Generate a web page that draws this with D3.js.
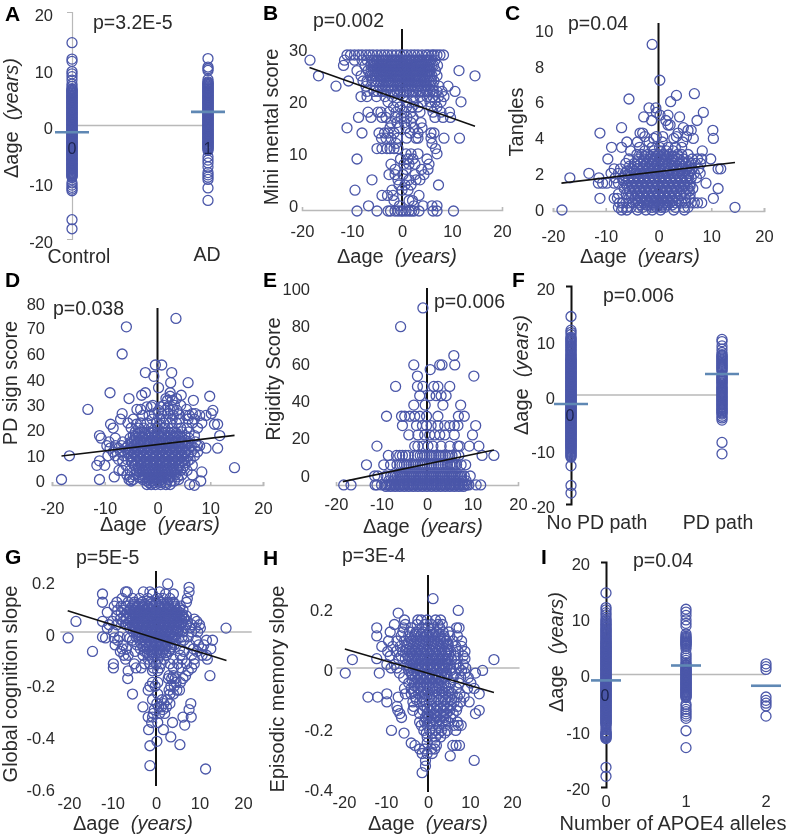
<!DOCTYPE html>
<html><head><meta charset="utf-8">
<script src="https://cdn.jsdelivr.net/npm/d3@7/dist/d3.min.js"></script>
<style>html,body{margin:0;padding:0;background:#fff}svg{display:block;filter:blur(.35px)}text{font-family:"Liberation Sans",Arial,sans-serif;fill:#2b2b2b}</style>
</head><body><div id="c"></div>
<script>
// ---------- Strip panels: delta-age values per group ----------
const controlAge=[14.6,11.7,11.3,9.5,9.1,8.6,8,7.3,6.9,6.5,6.2,5.9,5.6,5.3,5,4.7,4.4,4.1,3.8,3.5,3.2,2.9,2.6,2.3,2,1.7,1.4,1.1,.8,.5,.2,-.1,-.4,-.7,-1,-1.3,-1.6,-1.9,-2.2,-2.5,-2.8,-3.1,-3.4,-3.7,-4,-4.3,-4.6,-4.9,-5.2,-5.5,-5.8,-6.1,-6.4,-6.7,-7,-7.3,-7.6,-7.9,-8.2,-8.5,-8.8,-9.1,-10.1,-10.5,-10.9,-11.2,-11.5,-16.6,-18.2];
const controlAgeCore=[6.35,6.05,5.75,5.45,5.15,4.85,4.55,4.25,3.95,3.65,3.35,3.05,2.75,2.45,2.15,1.85,1.55,1.25,.95,.65,.35,.05,-.25,-.55,-.85,-1.15,-1.45,-1.75,-2.05,-2.35,-2.65,-2.95,-3.25,-3.55,-3.85,-4.15,-4.45,-4.75,-5.05,-5.35,-5.65,-5.95,-6.25,-6.55,-6.85,-7.15,-7.45,-7.75,-8.05,-8.35,-8.65,-8.95];
const adAge=[11.8,10.3,10,9.7,8.1,7.7,7.4,7.1,6.8,6.5,6.2,5.9,5.6,5.3,5,4.7,4.4,4.1,3.8,3.5,3.2,2.9,2.6,2.3,2,1.7,1.4,1.1,.8,.5,.2,-.1,-.4,-.7,-1,-1.3,-1.6,-1.9,-2.2,-2.5,-2.8,-3.1,-3.4,-3.7,-4,-4.4,-5.5,-6.1,-6.6,-7.3,-8.3,-8.7,-9.1,-9.5,-11,-13.2];
const adAgeCore=[7.55,7.25,6.95,6.65,6.35,6.05,5.75,5.45,5.15,4.85,4.55,4.25,3.95,3.65,3.35,3.05,2.75,2.45,2.15,1.85,1.55,1.25,.95,.65,.35,.05,-.25,-.55,-.85,-1.15,-1.45,-1.75,-2.05,-2.35,-2.65,-2.95,-3.25,-3.55,-3.85,-4.2];
const noPdAge=[14.4,11.9,11.5,11.1,10.6,10.2,9.8,9.3,8.9,8.4,8,7.5,7.1,6.7,6.4,6.1,5.8,5.5,5.2,4.9,4.6,4.3,4,3.7,3.4,3.1,2.8,2.5,2.2,1.9,1.6,1.3,1,.7,.4,.1,-.2,-.5,-.8,-1.1,-1.4,-1.7,-2,-2.3,-2.6,-2.9,-3.2,-3.5,-3.8,-4.1,-4.4,-4.7,-5,-5.3,-5.6,-5.9,-6.2,-6.5,-6.8,-7.1,-7.4,-7.7,-8,-8.3,-8.6,-8.9,-9.2,-9.5,-9.8,-10.2,-10.6,-11,-11.4,-13,-16.6,-18];
const noPdAgeCore=[10.4,10,9.55,9.1,8.65,8.2,7.75,7.3,6.9,6.55,6.25,5.95,5.65,5.35,5.05,4.75,4.45,4.15,3.85,3.55,3.25,2.95,2.65,2.35,2.05,1.75,1.45,1.15,.85,.55,.25,-.05,-.35,-.65,-.95,-1.25,-1.55,-1.85,-2.15,-2.45,-2.75,-3.05,-3.35,-3.65,-3.95,-4.25,-4.55,-4.85,-5.15,-5.45,-5.75,-6.05,-6.35,-6.65,-6.95,-7.25,-7.55,-7.85,-8.15,-8.45,-8.75,-9.05,-9.35,-9.65,-10,-10.4,-10.8,-11.2];
const pdAge=[10.2,9.8,9,8.4,7.8,7.4,7,6.6,6.2,5.8,5.4,5,4.6,4.3,3.6,3.2,2.8,2.4,2,1.7,1.3,.9,.5,.1,-.3,-.7,-1.1,-1.5,-1.9,-2.3,-2.7,-3.1,-3.5,-3.9,-4.2,-4.6,-8.7,-10.8];
const pdAgeCore=[7.2,6.8,6.4,6,5.6,5.2,4.8,3.4,3,2.6,2.2,1.5,1.1,.7,.3,-.1,-.5,-.9,-1.3,-1.7,-2.1,-2.5,-2.9,-3.3];
const apoe0Age=[14.5,11.9,11.5,11,10.6,10.1,9.7,9.2,8.8,8.3,7.9,7.5,7.1,6.7,6.3,5.9,5.6,5.3,5,4.7,4.4,4.1,3.8,3.5,3.2,2.9,2.6,2.3,2,1.7,1.4,1.1,.8,.5,.2,-.1,-.4,-.7,-1,-1.3,-1.6,-1.9,-2.2,-2.5,-2.8,-3.1,-3.4,-3.7,-4,-4.3,-4.6,-4.9,-5.2,-5.5,-5.8,-6.1,-6.4,-6.7,-7,-7.3,-7.6,-7.9,-8.2,-8.5,-8.8,-10.2,-10.5,-10.8,-11.1,-11.4,-16.5,-18.1];
const apoe0AgeCore=[9.5,9,8.55,8.1,7.7,7.3,6.9,6.5,6.1,5.75,5.45,5.15,4.85,4.55,4.25,3.95,3.65,3.35,3.05,2.75,2.45,2.15,1.85,1.55,1.25,.95,.65,.35,.05,-.25,-.55,-.85,-1.15,-1.45,-1.75,-2.05,-2.35,-2.65,-2.95,-3.25,-3.55,-3.85,-4.15,-4.45,-4.75,-5.05,-5.35,-5.65,-5.95,-6.25,-6.55,-6.85,-7.15,-7.45,-7.75,-8.05,-8.35,-8.65,-9,-9.4,-9.8,-10.35,-10.65,-10.95,-11.25];
const apoe1Age=[11.6,11.1,10.5,9.7,9.1,8.6,7.2,6.8,6.4,6,5.7,5.4,5,4.6,3.7,3.3,2.9,2.5,2.1,1.8,1.4,1,.7,.4,.1,-.2,-.5,-.8,-1.1,-1.4,-1.7,-2,-2.3,-2.6,-2.9,-3.2,-3.5,-3.8,-4.1,-5.3,-5.7,-6.2,-6.6,-7,-7.4,-7.8,-10,-13];
const apoe1AgeCore=[6.6,6.2,5.85,5.55,5.2,1.6,1.2,.85,.55,.25,-.05,-.35,-.65,-.95,-1.25,-1.55,-1.85,-2.15,-2.45,-2.75,-3.05,-3.35,-3.65,-3.95];
const apoe2Age=[1.9,1.4,.9,-4,-4.6,-5.1,-5.6,-7.4];
const meansA=[-1.2,2.4], meansF=[-1.65,3.85], meansI=[-1.05,1.6,-2];
const catsA=["Control","AD"], catsF=["No PD path","PD path"], catsI=["0","1","2"];
const ticksStrip=[20,10,0,-10,-20];
const ticksAge=[-20,-10,0,10,20];
const ticksB=[0,10,20,30], ticksC=[0,2,4,6,8,10], ticksD=[0,10,20,30,40,60,70,80];
const ticksE=[0,20,40,60,80,100], ticksG=[0.2,0,-0.2,-0.4,-0.6], ticksH=[0.2,0,-0.2,-0.4];
// ---------- Scatter panels: rows of [y, x, x, ...] ----------
const mmseRows=[
[30,-11,-10.3,-9.5,-8.7,-8,-7.2,-6.5,-5.8,-5,-4.2,-3.5,-2.8,-2,-1.2,-.4,.3,1,1.8,2.5,3.2,4,4.8,5.3,6,6.4,7,7.6,8.3],
[29,-18.4,-11.5,-9.5,-8,-7,-6,-5,-4,-3.3,-2.5,-1.7,-1,-.2,.6,1.4,2.1,2.9,3.6,4.4,5.1,5.8,6.6],
[28,-11.7,-7.4,-6.2,-5.4,-4.6,-3.8,-3,-2.2,-1.5,-.7,0,.9,1.7,2.4,3.1,3.9,4.6,5.5,6.3,7.1],
[27,-9,-6.8,-5.7,-4.9,-4.1,-3.4,-2.6,-1.9,-1.1,-.3,.5,1.2,2,2.7,3.5,4.2,5,5.6,6.7,11.4],
[26,-16.7,14.6,-8.2,-6.4,-5.5,-4.5,-3.7,-2.9,-2.1,-1.3,-.6,.2,1,1.8,2.6,3.3,4.1,5.2,6,7],
[25,-10.7,-7.8,-7,-6,-4.8,-3.6,-2.7,-1.8,-.9,0,.8,1.6,2.4,3.2,4.4,5.4,6.4],
[24,-13.2,-7.2,-5.2,-3.9,-2.8,-1.6,-.4,.7,1.9,3,4,5,6.2,7.4,9.2],
[23,-7,-5.6,-4,-2.4,-1,.4,1.4,2.8,4.2,5.6,7,8,10.6],
[22,-8.2,-7,-5.1,-3.4,-1.9,.2,2.2,3.6,5,6.2,7.3,8.4],
[21,-2.8,-1,1,2.4,4,5.6,6.6,7.8,11.8],
[20,-1.7,-.4,.9,2,3.2,5.8,7],
[19,-6.8,-4.8,-4.2,-2.6,-1.2,.4,1.8,3.6,6.2,7.8,9.5],
[18,-8.7,-6.2,-4,-3.2,-1.4,-.2,1,2.2,6.6,8.2,9.7],
[17,-2.2,-1,.5,1.8,3.8],
[16,-11,-2.4,-.6,.8,2.4,4],
[15,-8,-4.6,-3.5,-2.8,-1.6,1.6,3.2,6.4,5.8],
[14,-4.1,-3.2,-2.2,-.9,.9,2.8,3.2,5.8,8.4,11.5],
[13,-1.2,6],
[12,-5,-4,-3,-2.4,-1.6,-.8,6.7],
[11,.8,1.8,3.2,7],
[10,-9,-.3,1.2,2.2,5],
[9,-2.2,.4,1.4,2.6,5.4],
[8,-1.4,.8,3.9,5.2],
[7,-2.6,-1.4,.2,2.6,4.4],
[6,-6,-.8,1.4,2.8,3.6],
[5,-.6,.6,1.8,7.3],
[4,-9.4,-2,0,1.2],
[3,-4,-2.9,-1.8,3.4],
[2,-1.6,1.4,2.1],
[1,-6.7,-.5,2.4,4.2,6,7],
[0,-9,-5,-2.8,-2.3,-1.4,-.8,-.2,.2,.8,1.4,1.9,2.4,3.4,6.2,7,10.3]];
const mmseCore=[
[29,-5.6,-4.6,-3.7,-2.9,-2.1,-1.4,-.6,.2,1,1.8,2.5,3.3,4,4.8,5.5],
[28,-5.8,-5,-4.2,-3.4,-2.6,-1.9,-1.1,-.3,.4,1.3,2.1,2.8,3.5,4.3,5.1,5.9],
[27,-6.2,-5.3,-4.5,-3.8,-3,-2.2,-1.5,-.7,.1,.9,1.6,2.3,3.1,3.9,4.6,5.3],
[26,-6,-5,-4.1,-3.3,-2.5,-1.7,-1,-.2,.6,1.4,2.2,2.9,3.7,4.6,5.6],
[25,-5.4,-4.2,-3.2,-2.2,-1.4,-.5,.4,1.2,2,2.8,3.8,4.9,5.9],
[24,-4.5,-3.4,-2.2,-1,.1,1.3,2.5,3.5,4.5,5.6],
[23,-4.8,-3.2,-1.7,-.3,.9,2.1,3.5,4.9,6.3]];
const tanglesRows=[
[9.25,-1.2],[7.25,.25],[6.5,6.8],[6.4,3.4],[6.2,-5.6],[6.05,2.3],[5.7,-.5,-1.8],[5.45,8.5,-.4],[5.3,1.8,.3],[5.2,4,-2.8],[5,7.3,-1.3,1.4],[4.75,1.8,2.2],[4.6,-7,4.7],[4.45,10.3,5.6,6.2],
[4.3,-11.1,-3.5,-3,3.7],[4.1,3.4,-.4,.8,-2.6,5.3],[4,10.4,6.6,2.9,-.9],[3.8,-6,-4,-1.8,.7,4.6],[3.5,-8.9,-7,-3.6,-1.2,.2,1.8,3.2,4.4],[3.3,-5.3,-2.6,-.9,.4,1.5,2.8,8.3],
[3.1,-4.1,-3.2,-2,-1,0,1,2,3.6,4.4,5.6],[2.85,-9.6,-5.6,-3.8,-2.8,-1.6,-.6,.5,1.5,2.6,3.7,4.8,6.4,7.4,8.2,9.9],
[2.6,-6.2,-4.6,-3.4,-2.3,-1.3,-.2,.8,1.9,3,4.1,5.2,6.2,7,8],[2.3,-8.4,-7.2,-5.1,-4,-3,-2,-1,0,1,2.2,3.3,4.4,5.4,6.4,7.6,11.3,11.8],
[2.05,-13.2,-9,-7.6,-6.3,-5.3,-4.3,-3.4,-2.4,-1.4,-.4,.6,1.6,2.6,3.6,4.6,5.8,6.8,7.9],[1.8,-16.8,-11.3,-8.2,-6.8,-5.7,-4.7,-3.8,-2.8,-1.8,-.8,.2,1.2,2.2,3.2,4.2,5.2,6.2,7.2],
[1.5,-11.4,-10.6,-9.8,-8.4,-7.6,-6.2,-5.2,-4.2,-3.2,-2.2,-1.2,-.2,.8,1.8,2.8,3.8,4.8,6,9],[1.2,-6.5,-5.6,-4.6,-3.6,-2.6,-1.6,-.6,.4,1.4,2.4,3.4,4.4,5.6,6.5,11.3],
[.9,-7.6,-6.1,-5,-4,-3,-2,-1,0,1,2,3,4.2,5.2,6],[.65,-11.1,-8.4,-7.8,-5.6,-4.4,-3.4,-2.4,-1.4,-.4,.6,1.6,2.6,3.6,10.4,5,6],
[.4,-7.4,-6.8,-5.6,-4.8,-3.8,-2.8,-1.8,-.8,.2,1.2,2.2,3.2,4.4,5.2,6.2,6.8,7.4,8.2],[.15,-7.6,-6.8,-6,-5.2,-3.8,-3,-1.2,-.4,.5,1.2,3.2,4.8,5.6,14.5],[0,-18.3,-7,-6,-4,-2.4,-1.2,.4,2.9,4.9]];
const tanglesCore=[
[3,-2.5,-1.5,-.5,.5,1.5,2.5,3],[2.7,-4,-2.8,-1.8,-.8,.3,1.3,2.4,3.4,4.5,5.7],[2.45,-5.5,-4,-2.9,-1.8,-.7,.3,1.4,2.5,3.5,4.6,5.7],[2.18,-6,-4.6,-3.5,-2.5,-1.5,-.5,.5,1.6,2.8,3.8,4.9,5.9],
[1.92,-6.3,-5.2,-4.2,-3.3,-2.3,-1.3,-.3,.7,1.7,2.7,3.7,4.7,5.7],[1.65,-6.7,-5.7,-4.7,-3.7,-2.7,-1.7,-.7,.3,1.3,2.3,3.3,4.3,5.4],[1.35,-6,-5.1,-4.1,-3.1,-2.1,-1.1,-.1,.9,1.9,2.9,3.9,5,6],
[1.05,-5.5,-4.5,-3.5,-2.5,-1.5,-.5,.5,1.5,2.5,3.5,4.7,5.8],[.78,-5.2,-3.9,-2.9,-1.9,-.9,.1,1.1,2.1,3.1,4.2],[.52,-4.3,-3.3,-2.3,-1.3,-.3,.7,1.7,2.7,3.8],[.28,-3.4,-2.3,-1.7,-.8,0,.8,1.7,2.6]];
const pdSignRows=[
[74,3.5],[70.5,-5.9],[60,-6.7],[46,-.4,.8],[43,-2.3,2.7],[41.5,-.7],[39,2.5,5.8],[37,.2],[35,-9,-2.3,2.4],[34,-3,4.5],[33.6,9.9,2.4],[32.7,-5.4,3.6,1.6],[32,6.8,1.9,2.8],[30,-.9,1.2,3.2,4.4],[29.4,-2,-1.2,.6,2],
[28.4,-13.2,-3.9,-3.2,3,5.5],[28,10.5,.2,1.4,2.4,3.7],[26.7,10.2,-6.7,-.6,.8,2,4,6.6,7.2],[26,9.2,-2.8,-1.6,3,5.4,6,8],[24.5,-7,-4.6,-1,.4,1.6,2.8,4.2,5.8,7],[23,-5.6,-3.2,-2,-.2,1.2,2.4,3.6,6.6,8.4],[22.5,10.8,11.4,-8.9,-4,.4],
[21,-8.4,-5,-3.6,-2.6,-1.2,0,1.4,2.8,4.4,5.6,7.6],[19.5,-4.2,-3,-1.6,-.6,.8,2,3.2,4.6,6],[18,-11,11.8,-4.6,-3.4,-2.2,-1,.2,1.4,2.6,3.8,5.2,7],[17,-10.7,-8,-5.2,-4,-2.8,-1.5,-.4,.8,2,3.2,4.6,6],
[15.5,-9.2,-6.6,-5,-3.8,-2.6,-1.4,-.2,1,2.2,3.4,4.6,5.8,7.2],[14,-9.6,-8,-6.8,-5.6,-4.4,-3.2,-2,-.8,.4,1.6,2.8,4,5.2,6.4,7.6,8],[13,9.2,11.4,-9,-7.4,-6,-4.8,-3.6,-2.4,-1.2,0,1.2,2.4,3.6,4.8,6,7],
[11.5,-8.4,-7,-5.6,-4.4,-3.2,-2,-.8,.4,1.6,2.8,4,5.2,6.4,7.6],[10,-16.7,-9.4,-8,-6.4,-5,-3.8,-2.6,-1.4,-.2,1,2.2,3.4,4.6,5.8,7],[8.6,-7.4,-5.8,-4.6,-3.4,-2.2,-1,.2,1.4,2.6,3.8,5,6.2],
[8,-11,-6.6,-5,-3.8,-2.6,-1.4,-.2,1,2.2,3.4,4.6,5.8],[6.2,-11.5,-10,-6,-4.4,-3.2,-2,-.8,.4,1.6,2.8,4,5.2,6.6],[5.3,14.6,-3.6,-2.4,-1.2,0,1.2,2.4,3.6,4.8],[4.2,-7.3,-6.6,-5.2,-4,-2.8,-1.6,-.4,.8,2,3.2,4.4,5.6],
[3.6,8.4,-3.4,-2.2,-1,.2,1.4,2.6],[2.4,-5.8,-4.4,-3,-1.8,-.6,.6,1.8,3.4,4.6,6.6],[1.6,-8.2,-5.2,-3.6,-2.4,-1.2,0,1.2,2.4,3.8],[.6,-18.2,-11,-5.4,-4.6,-2.8,-1.6,-.4,.8,2,4],[0,8.2,-5,-2,-.9,.3,2.6,3.2],[-1.4,6.1,-2,-1.2,-.4,.6,1.6,2.4],[-1.7,7]];
const pdSignCore=[
[19,-3.6,-2.4,-1.2,0,1.2,2.4,3.6],[17.8,-4.2,-3,-1.8,-.6,.6,1.8,3,4.2],[16.2,-4.4,-3.2,-2,-.8,.4,1.6,2.8,4,5.2],[14.8,-5,-3.8,-2.6,-1.4,-.2,1,2.2,3.4,4.6,5.8],[12.4,-5.4,-4.2,-3,-1.8,-.6,.6,1.8,3,4.2,5.4],
[10.8,-5.6,-4.4,-3.2,-2,-.8,.4,1.6,2.8,4,5.2],[9.4,-5,-3.8,-2.6,-1.4,-.2,1,2.2,3.4,4.6],[7.2,-4.8,-3.2,-2,-.8,.4,1.6,2.8,4,5.2],[5.8,-4.2,-3,-1.8,-.6,.6,1.8,3,4.2],[4.8,-3.4,-2.2,-1,.2,1.4,2.6,3.8],[3,-4,-2.8,-1.6,-.4,.8,2,3.2],[1.2,-2.8,-1.6,-.4,.8,2],[-.6,-1.6,-.6,.6,1.6]];
const rigidityRows=[
[90,-.9],[80,-5.8],[64.5,5.9],[59.5,-2.9,2.8,3.3,6.1],[57,.7],[53.5,-2.1,10.3],[48,-6.9,-2.1,-.9,1.5,2.4,5],[43,-1.6,.6,2,3.1,4.2],[38,-2.9,-.4,3.5,7.4],
[32,-8.9,-5.6,-4.9,-3.8,-2.7,-1.6,-.1,2.4,6.9,8.2],[27,-5.4,-2.3,-1,-.1,.9,2.4,3.9,5,6,6.8,10.7],[22,-4,-2,-.5,.6,1.7,2.8,3.9,6,10],
[16,-11,-2.7,-2,-.9,.2,1.3,3.1,5,6.8,7.2,9.3,11.4],[11,-8.5,-6.7,-6,-5.4,-4.7,-4.1,-2.7,-1.5,-.5,.5,1.5,2.6,3.5,4.6,5.5,6.3,7,12.1,14.7],
[6,-13.3,-9.5,-8,-6.6,-6,-5,-4,-3,-2,-1,0,1,2,3,4,5,5.7,6.5,7.5,8.5],[0,-11.5,-10.8,-9,-8,-7,-6,-5.2,-4.4,-3.6,-2.8,-2,-1.2,-.4,.4,1.2,2,2.8,3.6,4.4,5.2,6,6.8,7.6,9.5],
[-4.8,-18.3,-16.7,-11.4,-11,-10,-9.2,-8.8,-8.4,-8,-7.6,-7.2,-6.8,-6.4,-6,-5.6,-5.2,-4.8,-4.4,-4,-3.6,-3.2,-2.8,-2.4,-2,-1.6,-1.2,-.8,-.4,0,.4,.8,1.2,1.6,2,2.4,2.8,3.2,3.6,4,4.4,4.8,5.2,5.6,6,6.4,6.8,7.2,7.6,8,8.4,8.8,9.2,10.8,11.8],
[-5.6,-9,-8,-7,-6,-5,-4,-3,-2,-1,0,1,2,3,4,5,6,7,8]];
const rigidityCore=[
[11,-2.1,-1,0,1,2,3,4,5],[6,-5.5,-4.5,-3.5,-2.5,-1.5,-.5,.5,1.5,2.5,3.5,4.5,5.3,6.1],[0,-7.5,-6.5,-5.6,-4.8,-4,-3.2,-2.4,-1.6,-.8,0,.8,1.6,2.4,3.2,4,4.8,5.6,6.4,7.2,8.2],
[-2.6,-8.4,-7.4,-6.6,-5.8,-5,-4.2,-3.4,-2.6,-1.8,-1,-.2,.6,1.4,2.2,3,3.8,4.6,5.4,6.2,7,7.8,8.6]];
const globalRows=[
[.186,2.7],[.173,7.6],[.155,-7,-2.9,-6.6,-1.4,.8,7.6],[.147,-12.3,-.8,2.2,4],[.13,-7.8,-5.4,-3.8,-1.9,.4,1.6,3.2,7.2],[.115,-12.3,-9,-6.4,-5,-3.2,-1.4,0,1.2,2.6,4,7],
[.1,-9.6,-8,-6.8,-5.4,-4.2,-3,-1.8,-.6,.6,1.8,3,4.4,5.6],[.085,-8.8,-7.2,-6,-4.8,-3.6,-2.4,-1.2,0,1.2,2.4,3.6,4.8,6.2],[.076,-11.2,-8,-6.6,-5.4,-4.2,-3,-1.8,-.6,.6,1.8,3,4.2,5.4],
[.062,-9,-7.4,-6,-4.8,-3.6,-2.4,-1.2,0,1.2,2.4,3.6,4.8,6,7],[.05,-8.2,-6.8,-5.4,-4.2,-3,-1.8,-.6,.6,1.8,3,4.2,5.4,6.4,8.8],[.041,-18.4,-12.3,-10,-7.6,-6,-4.8,-3.6,-2.4,-1.2,0,1.2,2.4,3.6,4.8,6,7.2,9.4],
[.028,-10.8,-9,-7,-5.4,-4.2,-3,-1.8,-.6,.6,1.8,3,4.2,5.6,7,8.2,10],[.015,-11.2,-6,-4.8,-3.6,-2.4,-1.2,0,1.2,2.4,3.6,4.8,6.6,7.8,9,10.2,16.1],[0,-9.8,-5.2,-3.8,-2.6,-1.4,-.2,1,2.2,3.4,5,6.2,8.2,9.6],
[-.019,-12.3,-8.4,-6.6,-4.6,-3.2,-2,-.8,.4,1.6,2.8,4.2,6,7.4],[-.023,-20.2,-11.6,-9.6,-6,-4,-2.6,-1.4,-.2,1,2.2,3.6,5.2],[-.032,13,-8.8,-5.4,-3.2,-1.8,-.6,.6,1.8,3,4.6,6.4,9.2,11.6],
[-.05,-9.4,-7.6,-4.4,-2.6,-1.2,0,1.2,2.6,4.2,7.8,9.8,11],[-.065,-7.8,-6.8,-3.6,-2,-.6,.6,2,3.4,5.4,8.6,10.6,12.6],[-.075,-14.6,-8.2,-4.8,-2.6,-1,.2,1.6,3,6.4,9.4],[-.09,-7.4,-6.4,-3,-1.6,-.4,1,2.4,5.6,8.2,10.6,11.6],
[-.105,-7,-1.8,-.8,.4,1.8,4,6,8.8,11.8],[-.123,-9.8,-5,-2.6,-1.4,0,1.2,3.2,5,7,8.8],[-.139,-9.8,-4.6,-3.4,-.6,.8,4,5.8,8.2],[-.15,-6.4,-.8,.4,7.4],[-.169,12.4,4,3,6.8],[-.18,-6.5,2.8,3.6,4.4,6.2],[-.195,-.8,.4,4.6,5.6],[-.21,-1.4,-.2,3.4,4.2],[-.225,-1.8,3,4.8,5.4],[-.24,-5.4,.4,3.2,4],
[-.262,-.8,1.4,2.6],[-.277,8,.2,1.8,3.2],[-.29,-3,.6,1.2,2.4],[-.3,7.6,-.4,1.6],[-.315,-.6,.8,2],[-.329,8.1,-1.8,-.8,6.2],[-.35,3.8,-1,.4],[-.36,6.6],[-.378,-1.7,1.7],[-.406,3.4],[-.423,.2],[-.436,5.5],[-.44,-1.4],[-.517,-1.4],[-.53,11.4]];
const globalCore=[
[.108,-5,-3.8,-2.6,-1.2,0,1.4,2.8,4.2],[.093,-5.8,-4.4,-3,-1.8,-.6,.6,1.8,3,4.4,5.4],[.07,-6.2,-4.8,-3.6,-2.4,-1.2,0,1.2,2.4,3.6,4.8,6],[.056,-6.8,-5.4,-4.2,-3,-1.8,-.6,.6,1.8,3,4.2,5.4,6.4],
[.045,-5.8,-4.6,-3.4,-2.2,-1,.2,1.4,2.6,3.8,5],[.034,-6.4,-5,-3.8,-2.6,-1.4,-.2,1,2.2,3.4,4.6,5.8],[.022,-5.4,-4.2,-3,-1.8,-.6,.6,1.8,3,4.2,5.2],[.008,-4.6,-3.2,-2,-.8,.4,1.6,2.8,4,5.2],[-.01,-4,-2.8,-1.6,-.4,.8,2,3.2,4.4],[-.04,-3.6,-2.4,-1.2,0,1.2,2.4,3.8],[-.058,-3,-1.6,-.4,.8,2.2,3.6],[-.08,-2,-.6,.8,2.2]];
const episodicRows=[
[.231,1.2],[.192,7.2],[.183,-7.1],[.16,-2.4,-1.6,-.2,-5.6,1.8,3],[.145,-8,-5.4,-2.6,-.8,.8,2.4,3.4],[.134,-12.2,-5.8,-4,-1.4,0,1.4,2.8,6.8,7.4],[.12,-9,-6,-4.4,-2.8,-1.2,.4,2,3.6,5],
[.107,-12.2,-6.4,-4.6,-3.2,-1.8,-.4,1,2.4,3.8,5.2,7],[.09,-9.4,-7.4,-5.6,-4,-2.6,-1.2,.2,1.6,3,4.4,6,8],[.072,-11,-8.4,-6.6,-5,-3.6,-2.2,-.8,.6,2,3.4,4.8,6.6,8],[.055,-9.6,-7.6,-6,-4.4,-3,-1.6,-.2,1.2,2.6,4,5.4,7.2,8.8],
[.04,-9,-6.4,-4.8,-3.4,-2,-.6,.8,2.2,3.6,5,6.4,8.4],[.031,-12.2,-7,-5.4,-3.8,-2.4,-1,.4,1.8,3.2,4.6,7,8.8],[.028,15.7,-18,-4.6,-3,-1.6,-.2,1.2,2.6,4,5.6],[.012,-9.8,-8,-5,-3.6,-2.2,-.8,.6,2,3.4,4.8,6.6,8.4],
[0,-8.8,-7.4,-4.4,-3,-1.6,-.2,1.2,2.6,4,5.4,7.4,9],[-.008,13,-4.6,-3.4,-2,-.6,.8,2.2,3.6,5.4,8],[-.017,-19.7,-11.6,-6.8,-4,-2.6,-1.2,.2,1.6,3,4.4,6.4,11.3,8.8],[-.032,-5.8,-3,-1.6,-.2,1.2,2.6,4,6,7.8,9.6],
[-.05,-4.6,-3.2,-1.8,-.4,1,2.4,3.8,5.4,7.4,10.2],[-.068,-5.6,-4,-2.4,-1,.4,1.8,3.4,5,6.8,9.4,11],[-.086,12.2,-9.8,-5.4,-4,-2.2,-.6,1,2.6,4.2,5.8,7.6],[-.097,-14.3,-12,-7.1,-3,-1.4,.4,2,3.6,5.2,7,8.6],
[-.113,-9.8,-3.6,-2,-.4,1.4,3,4.6,6.2,7.8,9.8],[-.128,-7.4,-3.4,-.8,.6,2.2,3.8,5.4,7],[-.141,12.2,-7.2,-3.6,-1.2,.4,2,3.6,5.2,6.8],[-.152,-6.7,-2,-.2,1.6,3,4.4,6,11.3],[-.165,-6.3,-.6,.8,2.2,3.8,5.4],
[-.18,-2,-.8,.6,2,3.4,4.8,7],[-.191,7.9,7.2,-1.6,-.2,1.2,2.6,4.2,6.2],[-.208,-8.7,-1,.4,1.8,3.2,4.6,6.6],[-.217,-5.7,-.4,1,2.6,4],[-.23,-.2,1.8,3],[-.25,-4,-.2,1.6],[-.258,-3.1,5.9,6.7,7.5,2],[-.27,-2,-.8,.8,1.6],
[-.285,-1.4,-.2,1],[-.293,5.3],[-.308,11,-.6],[-.327,-.6],[-.349,-1.4]];
const episodicCore=[
[.112,-3,-1.6,-.2,1.2,2.6],[.098,-4.2,-2.8,-1.4,0,1.4,2.8,4],[.08,-4.8,-3.4,-2,-.6,.8,2.2,3.6,4.8],[.062,-5.2,-3.8,-2.4,-1,.4,1.8,3.2,4.6],[.048,-4,-2.6,-1.2,.2,1.6,3,4.4],[.022,-4,-2.8,-1.4,0,1.4,2.8,4.2],
[.006,-4.6,-3,-1.6,-.2,1.2,2.6,3.8],[-.025,-3.8,-2.4,-1,.4,1.8,3.2,4.6],[-.04,-3.8,-2.4,-1,.4,1.8,3.2],[-.06,-3.2,-1.8,-.2,1.2,2.6,4.2],[-.078,-3.4,-1.6,0,1.6,3.4,5],[-.105,-2.8,-1,.8,2.6,4.2,5.6],[-.135,-.2,1.4,3,4.6],[-.158,.2,1.8,3.6],[-.172,-.4,1.4,2.8,4.2]];
const trendB=[[-18.5,27.6],[14.6,16.3]], trendC=[[-18.4,1.5],[14.5,2.65]], trendD=[[-18.2,9.9],[14.6,18.1]];
const trendE=[[-18.5,-3],[14.7,13.9]], trendG=[[-20.3,.082],[16.2,-.11]], trendH=[[-19.8,.063],[15.7,-.082]];

const W=791,H=836, BLUE="#4b57a9", MEAN="#5f88b4", GREY="#b9b9b9", TICK=16.5;
const svg=d3.select("#c").append("svg").attr("width",W).attr("height",H);
const AGE="Δage  (years)";
const rowsToPts=r=>r.flatMap(([y,...xs])=>xs.map(x=>({x,y})));
const plain=d=>String(d);

function addText(t,x,y,o={}){
  const n=svg.append("text").attr("x",x).attr("y",y).attr("font-size",o.size||17).attr("text-anchor",o.anchor||"middle").attr("dominant-baseline","middle");
  if(o.bold)n.attr("font-weight","bold").style("fill","#000");
  if(o.rot)n.attr("transform",`rotate(-90 ${x} ${y})`);
  if(t===AGE){const s=t.split("  ");n.text(s[0]+"\u00a0\u00a0");n.append("tspan").attr("font-style","italic").text(s[1]);}
  else n.text(t);
  return n;
}
function dots(g,pts){
  g.selectAll(null).data(pts).join("circle").attr("cx",d=>d.px).attr("cy",d=>d.py).attr("r",5).attr("fill","none").attr("stroke",BLUE).attr("stroke-width",1.3);
}
function styleAxis(g,col,w,size){
  g.selectAll("path.domain").attr("stroke",col).attr("stroke-width",w);
  g.selectAll(".tick line").attr("stroke",col).attr("stroke-width",w);
  g.selectAll("text").attr("font-size",size).style("font-family",'"Liberation Sans",Arial,sans-serif').style("fill","#2b2b2b");
}
function scatter(c){
  const x=d3.scaleLinear().domain([-20,20]).range(c.xr), y=d3.scaleLinear().domain(c.yd).range(c.yr);
  const g=svg.append("g");
  const ax=g.append("g").attr("transform",`translate(0,${c.axisY})`).call(d3.axisBottom(x).tickValues(ticksAge).tickFormat(plain).tickSizeOuter(c.outer).tickSizeInner(c.inner).tickPadding(c.xPad));
  styleAxis(ax,GREY,1.6,TICK);
  ax.selectAll("path.domain").attr("transform","scale(1,-1)");
  ax.selectAll(".tick line").attr("y2",-c.inner);
  if(c.wide){ // grey base line runs past the labelled range
    ax.selectAll("path.domain").attr("d",`M${x(-c.wide)},0H${x(c.wide)}`);
  }
  const ay=g.append("g").attr("transform",`translate(${c.yLabX},0)`).call(d3.axisLeft(y).tickValues(c.ticks).tickFormat(c.fmt||plain).tickSize(0).tickPadding(0));
  styleAxis(ay,"none",0,TICK);
  ay.selectAll(".tick text").attr("dy",`${.32+(c.yLabDy||0)/TICK}em`);
  if(c.leftAlign) ay.selectAll(".tick text").attr("text-anchor","start").attr("x",0);
  g.append("line").attr("x1",x(0)).attr("x2",x(0)).attr("y1",c.vTop).attr("y2",c.vBot).attr("stroke","#111").attr("stroke-width",2);
  const pts=rowsToPts(c.rows).concat(rowsToPts(c.core)).map(d=>({...d,px:x(d.x),py:y(d.y)}));
  dots(g,pts);
  g.append("line").attr("x1",x(c.trend[0][0])).attr("y1",y(c.trend[0][1])).attr("x2",x(c.trend[1][0])).attr("y2",y(c.trend[1][1])).attr("stroke","#111").attr("stroke-width",1.6);
}
function strip(c){
  const y=d3.scaleLinear().domain([-20,20]).range(c.yr), x=d3.scalePoint().domain(c.cats).range(c.xr);
  const g=svg.append("g");
  const ay=g.append("g").attr("transform",`translate(${c.xr[0]},0)`).call(d3.axisLeft(y).tickValues(ticksStrip).tickFormat(plain).tickSizeInner(0).tickSizeOuter(5).tickPadding(c.pad));
  styleAxis(ay,c.axisCol,c.axisW,TICK);
  ay.selectAll(".tick text").attr("dy",`${.32+(c.dy||3)/TICK}em`);
  g.append("line").attr("x1",c.xr[0]).attr("x2",c.xr[1]).attr("y1",y(0)).attr("y2",y(0)).attr("stroke",GREY).attr("stroke-width",1.6);
  c.series.forEach((s,i)=>dots(g,s.map(v=>({px:x(c.cats[i]),py:y(v)}))));
  c.means.forEach((m,i)=>g.append("line").attr("x1",x(c.cats[i])-c.half).attr("x2",x(c.cats[i])+c.half).attr("y1",y(m)).attr("y2",y(m)).attr("stroke",MEAN).attr("stroke-width",2.6));
}

strip({cats:catsA,xr:[72,208],yr:[239,12],series:[controlAge.concat(controlAgeCore),adAge.concat(adAgeCore)],means:meansA,half:17,pad:19,axisCol:GREY,axisW:1.2,dy:3});
strip({cats:catsF,xr:[571,722],yr:[504,286],series:[noPdAge.concat(noPdAgeCore),pdAge.concat(pdAgeCore)],means:meansF,half:17,pad:16,axisCol:"#111",axisW:2,dy:3});
strip({cats:catsI,xr:[606,766],yr:[787,562],series:[apoe0Age.concat(apoe0AgeCore),apoe1Age.concat(apoe1AgeCore),apoe2Age],means:meansI,half:15,pad:16,axisCol:"#111",axisW:2,dy:2});
scatter({rows:mmseRows,core:mmseCore,trend:trendB,xr:[302,502],yd:[0,30],yr:[211,55],ticks:ticksB,yLabX:289,leftAlign:true,yLabDy:-5,axisY:211,outer:4,inner:0,xPad:14,vTop:29,vBot:211});
scatter({rows:tanglesRows,core:tanglesCore,trend:trendC,xr:[553,764],yd:[0,10],yr:[210,31],ticks:ticksC,yLabX:535,leftAlign:true,axisY:212,outer:4,inner:4,xPad:14,vTop:23,vBot:212});
// D: the printed scale skips 50
scatter({rows:pdSignRows,core:pdSignCore,trend:trendD,xr:[52,263],yd:[0,46,60,70,80],yr:[481,365,354,328,304],ticks:ticksD,yLabX:45,axisY:486,outer:4,inner:4,xPad:12,vTop:308,vBot:486});
scatter({rows:rigidityRows,core:rigidityCore,trend:trendE,xr:[336,518],yd:[0,100],yr:[476,289.3],ticks:ticksE,yLabX:310,axisY:486,outer:4,inner:0,xPad:12,vTop:288,vBot:486});
scatter({rows:globalRows,core:globalCore,trend:trendG,xr:[69,243],yd:[0,.2],yr:[632,580.3],ticks:ticksG,fmt:d=>d===0?"0":d.toFixed(1),yLabX:55,yLabDy:3,axisY:632,outer:0,inner:0,xPad:165,wide:22,vTop:571,vBot:786});
scatter({rows:episodicRows,core:episodicCore,trend:trendH,xr:[344,512],yd:[0,.2],yr:[668,608],ticks:ticksH,fmt:d=>d===0?"0":d.toFixed(1),yLabX:333,yLabDy:2,axisY:668,outer:0,inner:0,xPad:128,wide:21.8,vTop:575,vBot:792});

[["A",5,15],["B",263,14],["C",505,14],["D",5,281],["E",263,281],["F",512,281],["G",5,558],["H",263,559],["I",541,558]].forEach(([t,x,y])=>addText(t,x,y,{size:21,bold:true,anchor:"start"}));
[["p=3.2E-5",93,24],["p=0.002",313,22],["p=0.04",568,25],["p=0.038",53,310],["p=0.006",434,303],["p=0.006",603,297],["p=5E-5",76,559],["p=3E-4",342,557],["p=0.04",633,562]].forEach(([t,x,y])=>addText(t,x,y,{size:19.5,anchor:"start"}));
[[AGE,397,258],[AGE,640,258],[AGE,160,526],[AGE,423,528],[AGE,133,825],[AGE,428,825]].forEach(([t,x,y])=>addText(t,x,y,{size:20}));
addText("Number of APOE4 alleles",673,825,{size:20});
[[AGE,13,118],["Mini mental score",273,127],["Tangles",518,122],["PD sign score",12,383],["Rigidity Score",275,379],[AGE,523,375],["Global cognition slope",12,684],["Episodic memory slope",279,689],[AGE,558,652]].forEach(([t,x,y])=>addText(t,x,y,{size:20,rot:true}));
[["Control",79,258],["AD",207,256],["No PD path",597,524],["PD path",718,524]].forEach(([t,x,y])=>addText(t,x,y,{size:19.5}));
[["0",606,803],["1",686,803],["2",766,803]].forEach(([t,x,y])=>addText(t,x,y,{size:TICK}));
[["0",72,150],["1",208,150],["0",570,417],["0",605,697]].forEach(([t,x,y])=>addText(t,x,y,{size:16}).style("fill","#1c2450"));
</script></body></html>
